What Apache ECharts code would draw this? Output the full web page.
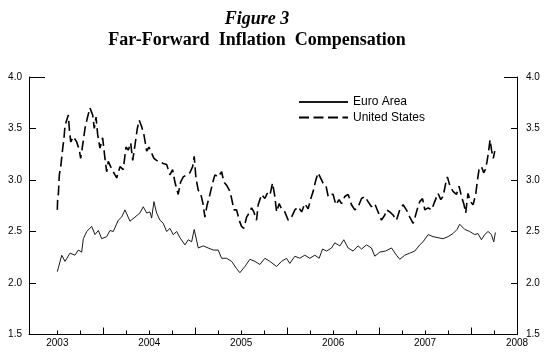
<!DOCTYPE html>
<html>
<head>
<meta charset="utf-8">
<script src="https://cdn.jsdelivr.net/npm/echarts@6/dist/echarts.min.js"></script>
<style>
html,body{margin:0;padding:0;background:#fff;}
#chart{width:550px;height:359px;}
</style>
</head>
<body>
<div id="chart"></div>
<script>
// Decimal-year dates and values (percent)
var euroDates = [2003.000,2003.048,2003.084,2003.138,2003.192,2003.228,2003.265,2003.283,2003.320,2003.374,2003.410,2003.446,2003.483,2003.537,2003.573,2003.609,2003.663,2003.700,2003.736,2003.790,2003.845,2003.899,2003.935,2003.972,2004.008,2004.026,2004.051,2004.080,2004.116,2004.152,2004.189,2004.225,2004.261,2004.298,2004.334,2004.388,2004.424,2004.461,2004.489,2004.533,2004.587,2004.641,2004.696,2004.750,2004.787,2004.841,2004.896,2004.950,2004.986,2005.040,2005.095,2005.149,2005.203,2005.258,2005.312,2005.385,2005.439,2005.493,2005.529,2005.584,2005.638,2005.692,2005.747,2005.801,2005.848,2005.885,2005.928,2005.983,2006.018,2006.073,2006.116,2006.163,2006.217,2006.272,2006.309,2006.363,2006.417,2006.453,2006.508,2006.570,2006.635,2006.689,2006.725,2006.779,2006.834,2006.888,2006.942,2006.978,2007.033,2007.087,2007.141,2007.196,2007.250,2007.304,2007.348,2007.377,2007.432,2007.486,2007.540,2007.576,2007.613,2007.649,2007.685,2007.722,2007.747,2007.765];
var euroValues = [2.11,2.27,2.21,2.29,2.27,2.32,2.30,2.43,2.50,2.55,2.47,2.51,2.43,2.45,2.51,2.50,2.61,2.64,2.71,2.60,2.64,2.68,2.74,2.68,2.69,2.63,2.79,2.68,2.61,2.58,2.50,2.53,2.47,2.50,2.44,2.37,2.42,2.40,2.52,2.34,2.36,2.34,2.32,2.32,2.24,2.24,2.21,2.14,2.10,2.16,2.23,2.21,2.18,2.24,2.21,2.16,2.21,2.24,2.19,2.26,2.24,2.27,2.24,2.27,2.24,2.33,2.31,2.34,2.39,2.36,2.42,2.34,2.31,2.36,2.33,2.37,2.34,2.26,2.30,2.31,2.34,2.27,2.23,2.27,2.29,2.31,2.37,2.40,2.47,2.45,2.44,2.43,2.45,2.48,2.52,2.57,2.52,2.50,2.47,2.48,2.42,2.47,2.50,2.47,2.40,2.49];

var usDates = [2003.000,2003.003,2003.011,2003.022,2003.037,2003.059,2003.073,2003.084,2003.102,2003.120,2003.130,2003.146,2003.174,2003.211,2003.239,2003.254,2003.276,2003.301,2003.326,2003.355,2003.385,2003.402,2003.421,2003.439,2003.464,2003.493,2003.518,2003.537,2003.554,2003.580,2003.609,2003.646,2003.682,2003.717,2003.747,2003.772,2003.798,2003.820,2003.845,2003.870,2003.891,2003.917,2003.942,2003.972,2003.997,2004.026,2004.051,2004.080,2004.116,2004.152,2004.189,2004.225,2004.254,2004.279,2004.315,2004.341,2004.370,2004.407,2004.442,2004.472,2004.489,2004.508,2004.533,2004.559,2004.587,2004.605,2004.630,2004.660,2004.689,2004.714,2004.750,2004.787,2004.812,2004.841,2004.877,2004.896,2004.921,2004.950,2004.978,2005.004,2005.029,2005.059,2005.087,2005.113,2005.138,2005.167,2005.185,2005.222,2005.258,2005.283,2005.312,2005.341,2005.366,2005.385,2005.413,2005.439,2005.475,2005.511,2005.548,2005.584,2005.620,2005.657,2005.692,2005.728,2005.754,2005.783,2005.812,2005.837,2005.863,2005.891,2005.921,2005.946,2005.972,2006.000,2006.029,2006.065,2006.091,2006.127,2006.163,2006.200,2006.236,2006.272,2006.309,2006.345,2006.380,2006.417,2006.453,2006.489,2006.526,2006.562,2006.580,2006.616,2006.652,2006.689,2006.725,2006.761,2006.797,2006.834,2006.870,2006.888,2006.913,2006.942,2006.972,2006.997,2007.033,2007.070,2007.105,2007.141,2007.171,2007.196,2007.225,2007.243,2007.268,2007.304,2007.341,2007.370,2007.396,2007.421,2007.442,2007.467,2007.493,2007.522,2007.551,2007.570,2007.587,2007.613,2007.638,2007.659,2007.674,2007.688,2007.707,2007.723,2007.742,2007.758];
var usValues = [2.71,2.80,2.86,3.05,3.13,3.31,3.41,3.53,3.58,3.63,3.50,3.37,3.42,3.37,3.29,3.21,3.34,3.50,3.60,3.70,3.63,3.50,3.61,3.44,3.31,3.41,3.21,3.08,3.18,3.13,3.08,3.02,3.13,3.10,3.32,3.29,3.36,3.19,3.34,3.50,3.58,3.52,3.44,3.28,3.32,3.26,3.21,3.19,3.18,3.16,3.15,3.05,3.10,2.98,2.86,2.98,3.03,3.05,3.07,3.13,3.23,3.02,2.90,2.87,2.76,2.64,2.76,2.86,2.97,3.05,3.03,3.08,2.98,2.95,2.89,2.82,2.71,2.71,2.61,2.55,2.53,2.64,2.68,2.73,2.69,2.61,2.76,2.86,2.82,2.87,2.85,2.97,2.84,2.69,2.77,2.72,2.69,2.61,2.64,2.71,2.74,2.69,2.77,2.72,2.81,2.89,3.00,3.07,3.02,2.97,2.95,2.84,2.86,2.86,2.76,2.81,2.77,2.84,2.86,2.76,2.71,2.74,2.82,2.84,2.79,2.74,2.77,2.69,2.61,2.66,2.71,2.69,2.66,2.61,2.71,2.76,2.71,2.64,2.58,2.63,2.71,2.79,2.82,2.71,2.73,2.71,2.79,2.87,2.81,2.84,2.97,3.03,2.95,2.89,2.86,2.94,2.84,2.77,2.68,2.87,2.79,2.76,2.86,3.00,3.10,3.13,3.07,3.11,3.18,3.26,3.39,3.29,3.21,3.28];

var yearLabels = [2003, 2004, 2005, 2006, 2007, 2008];
var quarterTicks = [2003,2003.25,2003.75,2004,2004.25,2004.75,2005,2005.25,2005.75,2006,2006.25,2006.75,2007,2007.25,2007.75,2008];
var halfYearTicks = [2003.5, 2004.5, 2005.5, 2006.5, 2007.5];

var seriesNames = ['Euro Area', 'United States'];

function pairs(xs, ys) { return xs.map(function (x, i) { return [x, ys[i]]; }); }

var chart = echarts.init(document.getElementById('chart'), null, {renderer: 'canvas'});
var lab = {color: '#000', fontFamily: 'Liberation Sans, Arial, sans-serif', fontSize: 10};
var axLine = {show: true, lineStyle: {color: '#000', width: 1}};

chart.setOption({
  animation: false,
  backgroundColor: '#fff',
  graphic: [
    {type: 'text', x: 257, y: 19, style: {text: 'Figure 3', textAlign: 'center', textVerticalAlign: 'middle', font: 'italic bold 18px "Liberation Serif", "Times New Roman", serif', fill: '#000'}},
    {type: 'text', x: 257, y: 40.5, style: {text: 'Far-Forward  Inflation  Compensation', textAlign: 'center', textVerticalAlign: 'middle', font: 'bold 18px "Liberation Serif", "Times New Roman", serif', fill: '#000'}}
  ],
  legend: {
    data: seriesNames,
    orient: 'vertical',
    left: 298,
    top: 96,
    padding: 0,
    itemWidth: 49,
    itemHeight: 12,
    itemGap: 3.6,
    itemStyle: {opacity: 0},
    textStyle: {color: '#000', fontSize: 12, fontFamily: 'Liberation Sans, Arial, sans-serif'}
  },
  grid: {left: 29, right: 33, top: 77, bottom: 24.5, containLabel: false},
  xAxis: [
    {
      type: 'value', min: 2002.692, max: 2008, position: 'bottom',
      axisLine: axLine,
      splitLine: {show: false},
      axisTick: {show: true, inside: true, length: 4, customValues: quarterTicks, lineStyle: {color: '#000'}},
      axisLabel: Object.assign({show: true, margin: 4, customValues: yearLabels, formatter: function (v) { return String(Math.round(v)); }}, lab)
    },
    {
      type: 'value', min: 2002.692, max: 2008, position: 'bottom',
      axisLine: {show: false},
      splitLine: {show: false},
      axisTick: {show: true, inside: true, length: 7, customValues: halfYearTicks, lineStyle: {color: '#000'}},
      axisLabel: {show: false}
    }
  ],
  yAxis: [
    {
      type: 'value', min: 1.5, max: 4, interval: 0.5, position: 'left',
      axisLine: axLine, splitLine: {show: false},
      axisTick: {show: true, inside: true, length: 7, lineStyle: {color: '#000'}},
      axisLabel: Object.assign({margin: 7, formatter: function (v) { return v.toFixed(1); }}, lab)
    },
    {
      type: 'value', min: 1.5, max: 4, interval: 0.5, position: 'right',
      axisLine: axLine, splitLine: {show: false},
      axisTick: {show: true, inside: true, length: 6, lineStyle: {color: '#000'}},
      axisLabel: Object.assign({margin: 9, formatter: function (v) { return v.toFixed(1); }}, lab)
    },
    {
      type: 'value', min: 1.5, max: 4, position: 'left',
      axisLine: {show: false}, splitLine: {show: false},
      axisTick: {show: true, inside: true, length: 16, customValues: [4.0], lineStyle: {color: '#000'}},
      axisLabel: {show: false}
    },
    {
      type: 'value', min: 1.5, max: 4, position: 'right',
      axisLine: {show: false}, splitLine: {show: false},
      axisTick: {show: true, inside: true, length: 13, customValues: [4.0], lineStyle: {color: '#000'}},
      axisLabel: {show: false}
    }
  ],
  series: [
    {
      name: seriesNames[0], type: 'line', xAxisIndex: 0, yAxisIndex: 0,
      data: pairs(euroDates, euroValues),
      symbol: 'none', smooth: false,
      lineStyle: {color: '#1a1a1a', width: 1, type: 'solid'},
      itemStyle: {color: '#1a1a1a'}
    },
    {
      name: seriesNames[1], type: 'line', xAxisIndex: 0, yAxisIndex: 0,
      data: pairs(usDates, usValues),
      symbol: 'none', smooth: false,
      lineStyle: {color: '#000', width: 1.6, type: [10, 4.5]},
      itemStyle: {color: '#000'}
    }
  ]
});
</script>
</body>
</html>
